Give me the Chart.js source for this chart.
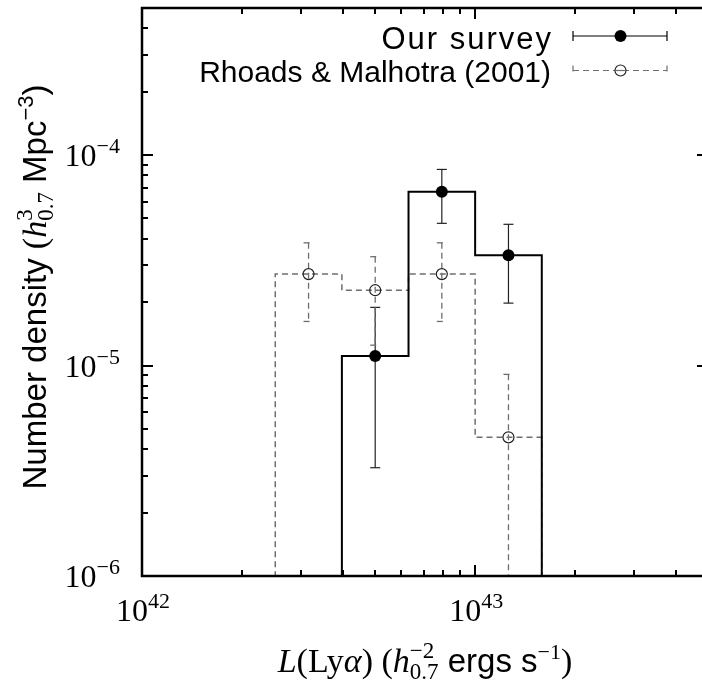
<!DOCTYPE html>
<html><head><meta charset="utf-8">
<script src="https://cdn.jsdelivr.net/npm/chart.js@4/dist/chart.umd.min.js"></script>
<style>html,body{margin:0;padding:0;background:#fff;overflow:hidden;width:702px;height:686px}canvas{display:block}</style>
</head><body>
<canvas id="c" width="720" height="686" style="width:720px;height:686px"></canvas>
<script>
// ---- data ----
const surveyEdges   = [3.981e42, 6.310e42, 1.0e43, 1.585e43];
const surveyCenters = [5.012e42, 7.943e42, 1.259e43];
const surveyDensity = [1.11e-5, 6.70e-5, 3.34e-5];
const surveyUpper   = [1.89e-5, 8.55e-5, 4.69e-5];
const surveyLower   = [3.27e-6, 4.74e-5, 1.98e-5];

const rmEdges   = [2.512e42, 3.981e42, 6.310e42, 1.0e43, 1.585e43];
const rmCenters = [3.162e42, 5.012e42, 7.943e42, 1.259e43];
const rmDensity = [2.72e-5, 2.28e-5, 2.72e-5, 4.56e-6];
const rmUpper   = [3.83e-5, 3.29e-5, 3.83e-5, 9.08e-6];
const rmLower   = [1.62e-5, 1.25e-5, 1.62e-5, null];

const xTickExponents = [42, 43];
const yTickExponents = [-6, -5, -4];
const legendLabels = ['Our survey', 'Rhoads & Malhotra (2001)'];

// ---- helpers ----
const SERIF = '"Liberation Serif", "DejaVu Serif", serif';
const SANS = '"Liberation Sans", Arial, sans-serif';
const FLOOR = 1e-9;
const DASH_GRAY = '#6e6e6e';

function histPoints(edges, vals) {
  const p = [{x: edges[0], y: FLOOR}];
  vals.forEach((v, i) => { p.push({x: edges[i], y: v}, {x: edges[i + 1], y: v}); });
  p.push({x: edges[edges.length - 1], y: FLOOR});
  return p;
}
function pts(xs, ys) { return xs.map((x, i) => ({x, y: ys[i]})); }

function rich(ctx, segs, x, y, draw) {
  let cx = x;
  for (const s of segs) {
    ctx.font = s.font;
    if (s.stack) {
      const w = Math.max(ctx.measureText(s.sup).width, ctx.measureText(s.sub).width);
      if (draw) { ctx.fillText(s.sup, cx, y + s.supDy); ctx.fillText(s.sub, cx, y + s.subDy); }
      cx += w;
    } else {
      if (draw) ctx.fillText(s.t, cx, y + (s.dy || 0));
      cx += ctx.measureText(s.t).width;
    }
  }
  return cx - x;
}
function powSegs(exp) {
  const e = exp < 0 ? '\u2212' + (-exp) : String(exp);
  return [{t: '10', font: `32px ${SERIF}`}, {t: e, font: `22px ${SERIF}`, dy: -13}];
}

const errorBars = {
  id: 'errorBars',
  beforeDatasetsDraw(chart) {
    const ctx = chart.ctx, xs = chart.scales.x, ys = chart.scales.y, a = chart.chartArea;
    ctx.save();
    ctx.beginPath(); ctx.rect(a.left, a.top, a.right - a.left, a.bottom - a.top); ctx.clip();
    const sets = [
      {c: surveyCenters, up: surveyUpper, lo: surveyLower, color: '#222', dash: [], w: 1.2},
      {c: rmCenters, up: rmUpper, lo: rmLower, color: DASH_GRAY, dash: [6, 4], w: 1.3}
    ];
    for (const s of sets) {
      ctx.strokeStyle = s.color; ctx.lineWidth = s.w; ctx.setLineDash(s.dash);
      s.c.forEach((cx, i) => {
        const px = xs.getPixelForValue(cx);
        const pu = ys.getPixelForValue(s.up[i]);
        const pl = s.lo[i] == null ? a.bottom + 5 : ys.getPixelForValue(s.lo[i]);
        ctx.beginPath(); ctx.moveTo(px, pu); ctx.lineTo(px, pl); ctx.stroke();
        ctx.beginPath(); ctx.moveTo(px - 5, pu); ctx.lineTo(px + 5, pu); ctx.stroke();
        if (s.lo[i] != null) { ctx.beginPath(); ctx.moveTo(px - 5, pl); ctx.lineTo(px + 5, pl); ctx.stroke(); }
      });
    }
    ctx.restore();
  }
};

const frame = {
  id: 'frame',
  afterDraw(chart) {
    const ctx = chart.ctx, xs = chart.scales.x, ys = chart.scales.y, a = chart.chartArea;
    ctx.save();
    ctx.setLineDash([]);
    ctx.strokeStyle = '#000';
    // ticks
    ctx.lineWidth = 2;
    for (let e = xTickExponents[0]; e <= xTickExponents[xTickExponents.length - 1] + 1; e++) {
      for (let k = 1; k <= 9; k++) {
        const v = k * Math.pow(10, e);
        if (v < xs.min * 0.999 || v > xs.max * 1.001) continue;
        const px = Math.round(xs.getPixelForValue(v));
        const L = k === 1 ? 11 : 6;
        ctx.beginPath(); ctx.moveTo(px, a.bottom); ctx.lineTo(px, a.bottom - L); ctx.stroke();
        ctx.beginPath(); ctx.moveTo(px, a.top); ctx.lineTo(px, a.top + L); ctx.stroke();
      }
    }
    for (let e = yTickExponents[0]; e <= yTickExponents[yTickExponents.length - 1] + 1; e++) {
      for (let k = 1; k <= 9; k++) {
        const v = k * Math.pow(10, e);
        if (v < ys.min * 0.999 || v > ys.max * 1.001) continue;
        const py = Math.round(ys.getPixelForValue(v));
        const L = k === 1 ? 11 : 6;
        ctx.beginPath(); ctx.moveTo(a.left, py); ctx.lineTo(a.left + L, py); ctx.stroke();
        ctx.beginPath(); ctx.moveTo(a.right, py); ctx.lineTo(a.right - L, py); ctx.stroke();
      }
    }
    // box
    ctx.lineWidth = 2.5;
    ctx.strokeRect(a.left, a.top, a.right - a.left, a.bottom - a.top);

    // tick labels
    ctx.fillStyle = '#000'; ctx.textAlign = 'left'; ctx.textBaseline = 'alphabetic';
    xTickExponents.forEach(e => {
      const segs = powSegs(e);
      const w = rich(ctx, segs, 0, 0, false);
      const px = xs.getPixelForValue(Math.pow(10, e));
      rich(ctx, segs, px - w / 2 + 1, a.bottom + 45, true);
    });
    yTickExponents.forEach(e => {
      const segs = powSegs(e);
      const w = rich(ctx, segs, 0, 0, false);
      const py = ys.getPixelForValue(Math.pow(10, e));
      rich(ctx, segs, a.left - 22 - w, py + 11, true);
    });

    // x title
    const xt = [
      {t: 'L', font: `italic 34px ${SERIF}`},
      {t: '(Ly', font: `34px ${SERIF}`},
      {t: '\u03B1', font: `italic 34px ${SERIF}`},
      {t: ') (', font: `34px ${SERIF}`},
      {t: 'h', font: `italic 34px ${SERIF}`},
      {stack: true, sup: '\u22122', sub: '0.7', font: `23px ${SERIF}`, supDy: -14, subDy: 7},
      {t: ' ergs s', font: `33px ${SANS}`},
      {t: '\u22121', font: `22px ${SERIF}`, dy: -13},
      {t: ')', font: `34px ${SERIF}`}
    ];
    const xw = rich(ctx, xt, 0, 0, false);
    rich(ctx, xt, 425 - xw / 2, 672, true);

    // y title
    const yt = [
      {t: 'Number density ', font: `33px ${SANS}`},
      {t: '(', font: `34px ${SERIF}`},
      {t: 'h', font: `italic 34px ${SERIF}`},
      {stack: true, sup: '3', sub: '0.7', font: `23px ${SERIF}`, supDy: -14, subDy: 7},
      {t: ' Mpc', font: `33px ${SANS}`},
      {t: '\u22123', font: `22px ${SANS}`, dy: -13},
      {t: ')', font: `33px ${SANS}`}
    ];
    const yw = rich(ctx, yt, 0, 0, false);
    ctx.save();
    ctx.translate(46, 287 + yw / 2);
    ctx.rotate(-Math.PI / 2);
    rich(ctx, yt, 0, 0, true);
    ctx.restore();

    // legend
    const rows = [
      {label: legendLabels[0], y: 36, base: 49, color: '#000', dash: [], filled: true, ls: '2px'},
      {label: legendLabels[1], y: 70.5, base: 81.5, color: DASH_GRAY, dash: [6, 4], filled: false, ls: '0px'}
    ];
    const x0 = 573, x1 = 667, xm = 620.5;
    rows.forEach(r => {
      ctx.font = r.filled ? `31px ${SANS}` : `30px ${SANS}`; ctx.textAlign = 'right'; ctx.fillStyle = '#000';
      if ('letterSpacing' in ctx) ctx.letterSpacing = r.ls;
      ctx.fillText(r.label, 551 + parseFloat(r.ls), r.base);
      if ('letterSpacing' in ctx) ctx.letterSpacing = '0px';
      ctx.strokeStyle = r.color; ctx.lineWidth = 1.2; ctx.setLineDash(r.dash);
      ctx.beginPath(); ctx.moveTo(x0, r.y); ctx.lineTo(x1, r.y); ctx.stroke();
      ctx.beginPath(); ctx.moveTo(x0, r.y - 5); ctx.lineTo(x0, r.y + 5); ctx.stroke();
      ctx.beginPath(); ctx.moveTo(x1, r.y - 5); ctx.lineTo(x1, r.y + 5); ctx.stroke();
      ctx.setLineDash([]);
      ctx.beginPath(); ctx.arc(xm, r.y, r.filled ? 6 : 5.5, 0, Math.PI * 2);
      if (r.filled) { ctx.fillStyle = '#000'; ctx.fill(); }
      else { ctx.fillStyle = '#fff'; ctx.fill(); ctx.strokeStyle = '#222'; ctx.lineWidth = 1.2; ctx.stroke();
        ctx.strokeStyle = DASH_GRAY; ctx.beginPath(); ctx.moveTo(xm - 5, r.y); ctx.lineTo(xm + 5, r.y); ctx.stroke(); }
    });
    ctx.restore();
  }
};

new Chart(document.getElementById('c'), {
  type: 'line',
  data: {
    datasets: [
      {label: legendLabels[0] + ' points', type: 'scatter', data: pts(surveyCenters, surveyDensity),
       pointRadius: 6, pointBackgroundColor: '#000', pointBorderColor: '#000', pointBorderWidth: 0, showLine: false, order: 0},
      {label: legendLabels[1] + ' points', type: 'scatter', data: pts(rmCenters, rmDensity),
       pointRadius: 5.5, pointBackgroundColor: 'rgba(0,0,0,0)', pointBorderColor: '#222', pointBorderWidth: 1.2, showLine: false, order: 1},
      {label: legendLabels[0], data: histPoints(surveyEdges, surveyDensity), borderColor: '#000', borderWidth: 2,
       pointRadius: 0, fill: false, tension: 0, order: 2},
      {label: legendLabels[1], data: histPoints(rmEdges, rmDensity), borderColor: DASH_GRAY, borderWidth: 1.5,
       borderDash: [6, 4], pointRadius: 0, fill: false, tension: 0, order: 3}
    ]
  },
  options: {
    responsive: false,
    animation: false,
    events: [],
    layout: {padding: {left: 142, right: 12, top: 8, bottom: 110}},
    plugins: {legend: {display: false}, tooltip: {enabled: false}},
    scales: {
      x: {type: 'logarithmic', min: 1e42, max: 5e43, display: false},
      y: {type: 'logarithmic', min: 1e-6, max: 5e-4, display: false}
    }
  },
  plugins: [errorBars, frame]
});
</script>
</body></html>
